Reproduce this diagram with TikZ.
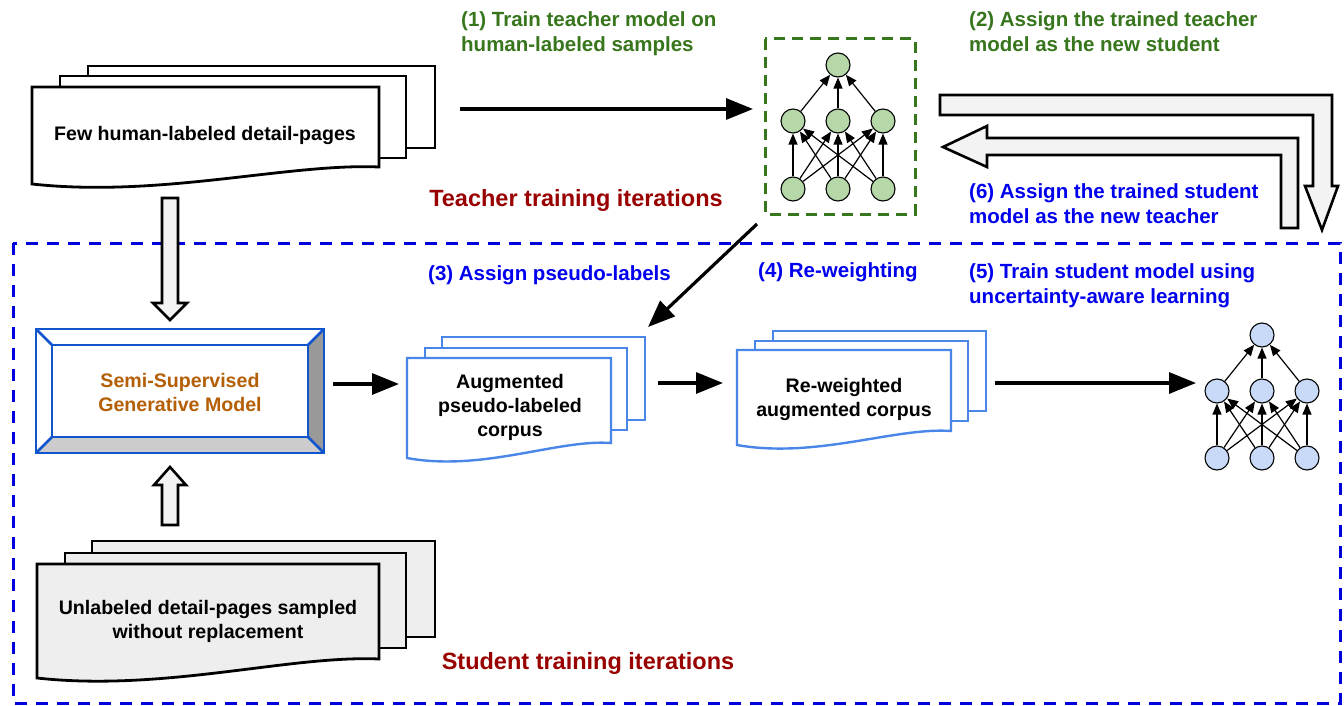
\documentclass[tikz,border=0pt]{standalone}
\usepackage{fontspec}
\setmainfont{Liberation Sans}
\usetikzlibrary{arrows.meta}

\definecolor{labgreen}{HTML}{38761D}
\definecolor{labblue}{HTML}{0000EE}
\definecolor{labred}{HTML}{990000}
\definecolor{modelbrown}{HTML}{B45F06}
\definecolor{docblue}{HTML}{4A86E8}
\definecolor{boxblue}{HTML}{1155CC}
\definecolor{frameblue}{HTML}{0000DD}
\definecolor{teachfill}{HTML}{B6D7A8}
\definecolor{studfill}{HTML}{C9DAF8}
\definecolor{paper}{HTML}{EEEEEE}
\definecolor{arrowfill}{HTML}{F3F3F3}
\definecolor{facedark}{HTML}{999999}
\definecolor{facelight}{HTML}{CCCCCC}

% front sheet of a page stack with a wavy lower edge:
% style, left x, top y, right x, lower-right y, lower-left y
\newcommand{\wavesheet}[6]{%
  \pgfmathsetmacro\wsw{#4-#2}%
  \draw[#1] (#2,#3) -- (#4,#3) -- (#4,#5)
    .. controls ({#4-0.26*\wsw},{#5-4}) and ({#2+0.37*\wsw},{#6+14}) .. (#2,#6) -- cycle;}

% three-layer network: prefix, centre x, top y, middle y, bottom y, fill
\newcommand{\netstack}[6]{%
  \node[netnode,fill=#6] (#1t) at (#2,#3) {};
  \node[netnode,fill=#6] (#1m1) at ({#2-45},#4) {};
  \node[netnode,fill=#6] (#1m2) at (#2,#4) {};
  \node[netnode,fill=#6] (#1m3) at ({#2+45},#4) {};
  \node[netnode,fill=#6] (#1b1) at ({#2-45},#5) {};
  \node[netnode,fill=#6] (#1b2) at (#2,#5) {};
  \node[netnode,fill=#6] (#1b3) at ({#2+45},#5) {};
  \foreach \i in {1,2,3}{%
    \draw[netarrow] (#1m\i) -- (#1t);
    \foreach \j in {1,2,3}{\draw[netarrow] (#1b\i) -- (#1m\j);}}}

\begin{document}
\begin{tikzpicture}[x=1pt,y=-1pt,
  lbl/.style={anchor=base west, inner sep=0, font=\bfseries\fontsize{20.5}{25}\selectfont},
  title/.style={inner sep=0, text=labred, font=\bfseries\fontsize{23.5}{28}\selectfont},
  doctext/.style={align=center, inner sep=0, font=\bfseries\fontsize{19.6}{24}\selectfont},
  blacksheet/.style={draw=black, line width=2.8pt, line join=miter, fill=#1},
  bluesheet/.style={draw=docblue, line width=2.4pt, line join=miter, fill=white},
  flowarrow/.style={line width=3.2pt, -{Triangle[length=27pt,width=21pt]}},
  blockarrow/.style={draw=black, line width=2.6pt, line join=miter, fill=arrowfill},
  netnode/.style={circle, draw=black, line width=1.1pt, minimum size=24pt, inner sep=0},
  netarrow/.style={line width=1.2pt, -{Triangle[length=11pt,width=9pt]}},
]
\useasboundingbox (0,0) rectangle (1344,706);
\fill[white] (0,0) rectangle (1344,706);

% student iteration frame
\draw[frameblue, line width=3pt, dash pattern=on 12pt off 9pt] (13,243) rectangle (1340,703);

% few human-labeled pages
\draw[blacksheet=white] (88,66) rectangle (435,148);
\draw[blacksheet=white] (60,76) rectangle (406,158);
\wavesheet{blacksheet=white}{32}{87}{379}{167}{184}
\node[doctext] (human) at (205,135) {Few human-labeled detail-pages};

% unlabeled pages
\draw[blacksheet=paper] (92,541) rectangle (435,637);
\draw[blacksheet=paper] (65,553) rectangle (406,648);
\wavesheet{blacksheet=paper}{37}{564}{379}{659}{678}
\node[doctext] (unlab) at (208,621) {Unlabeled detail-pages sampled\\without replacement};

% hollow arrows into the generative model
\draw[blockarrow] (162,198) -- (178,198) -- (178,303) -- (187,303) -- (170,320)
  -- (153,303) -- (162,303) -- cycle;
\draw[blockarrow] (162,525) -- (178,525) -- (178,485) -- (186,485) -- (170,467)
  -- (154,485) -- (162,485) -- cycle;

% bevelled generative model box
\fill[white] (36,329) rectangle (324,453);
\fill[facedark] (324,329) -- (324,453) -- (308,437) -- (308,345) -- cycle;
\fill[facelight] (36,453) -- (324,453) -- (308,437) -- (52,437) -- cycle;
\begin{scope}[draw=boxblue, line width=2.6pt]
  \draw[line join=miter] (36,329) rectangle (324,453);
  \draw[line join=miter] (52,345) rectangle (308,437);
  \draw (36,329) -- (52,345);
  \draw (324,329) -- (308,345);
  \draw (324,453) -- (308,437);
  \draw (36,453) -- (52,437);
\end{scope}
\node[doctext, text=modelbrown] (semi) at (180,392) {Semi-Supervised\\Generative Model};

% augmented pseudo-labeled corpus
\draw[bluesheet] (442,337) rectangle (645,420);
\draw[bluesheet] (425,348) rectangle (627,430);
\wavesheet{bluesheet}{407}{358}{611}{443}{458}
\node[doctext] (aug) at (510,407) {Augmented\\pseudo-labeled\\corpus};

% re-weighted corpus
\draw[bluesheet] (773,331) rectangle (986,411);
\draw[bluesheet] (755,341) rectangle (968,421);
\wavesheet{bluesheet}{737}{350}{951}{431}{445}
\node[doctext] (rew) at (844,399) {Re-weighted\\augmented corpus};

% teacher network
\draw[labgreen, line width=3pt, dash pattern=on 11pt off 7pt] (765,39) rectangle (915,214);
\netstack{T}{838}{65}{121}{189}{teachfill}

% student network
\netstack{S}{1262}{335}{391}{458}{studfill}

% flow arrows
\coordinate (a1s) at (460,109);  \coordinate (a1e) at (753,109);
\coordinate (a3s) at (757,224);  \coordinate (a3e) at (648,327);
\coordinate (g1s) at (333,384);  \coordinate (g1e) at (399,384);
\coordinate (g2s) at (658,383);  \coordinate (g2e) at (723,383);
\coordinate (g3s) at (995,383);  \coordinate (g3e) at (1196,383);
\draw[flowarrow] (a1s) -- (a1e);
\draw[flowarrow] (a3s) -- (a3e);
\draw[flowarrow] (g1s) -- (g1e);
\draw[flowarrow] (g2s) -- (g2e);
\draw[flowarrow] (g3s) -- (g3e);

% bent role-swap arrows
\draw[blockarrow] (940,95) -- (1332,95) -- (1332,186) -- (1338,186) -- (1322,230)
  -- (1305,186) -- (1313,186) -- (1313,115) -- (940,115) -- cycle;
\draw[blockarrow] (1281,228) -- (1298,228) -- (1298,138) -- (987,138) -- (987,126)
  -- (943,147) -- (987,167) -- (987,155) -- (1281,155) -- cycle;

% step labels
\node[lbl, text=labgreen] (l1a) at (461,27) {(1) Train teacher model on};
\node[lbl, text=labgreen] (l1b) at (461,52) {human-labeled samples};
\node[lbl, text=labgreen] (l2a) at (969,27) {(2) Assign the trained teacher};
\node[lbl, text=labgreen] (l2b) at (969,52) {model as the new student};
\node[lbl, text=labblue] (l6a) at (969,198) {(6) Assign the trained student};
\node[lbl, text=labblue] (l6b) at (969,223) {model as the new teacher};
\node[lbl, text=labblue] (l5a) at (969,278) {(5) Train student model using};
\node[lbl, text=labblue] (l5b) at (969,303) {uncertainty-aware learning};
\node[lbl, text=labblue] (l3) at (428,280) {(3) Assign pseudo-labels};
\node[lbl, text=labblue] (l4) at (758,277) {(4) Re-weighting};

\node[title] (teach) at (576,200) {Teacher training iterations};
\node[title] (stud) at (588,663) {Student training iterations};
\end{tikzpicture}
\end{document}
